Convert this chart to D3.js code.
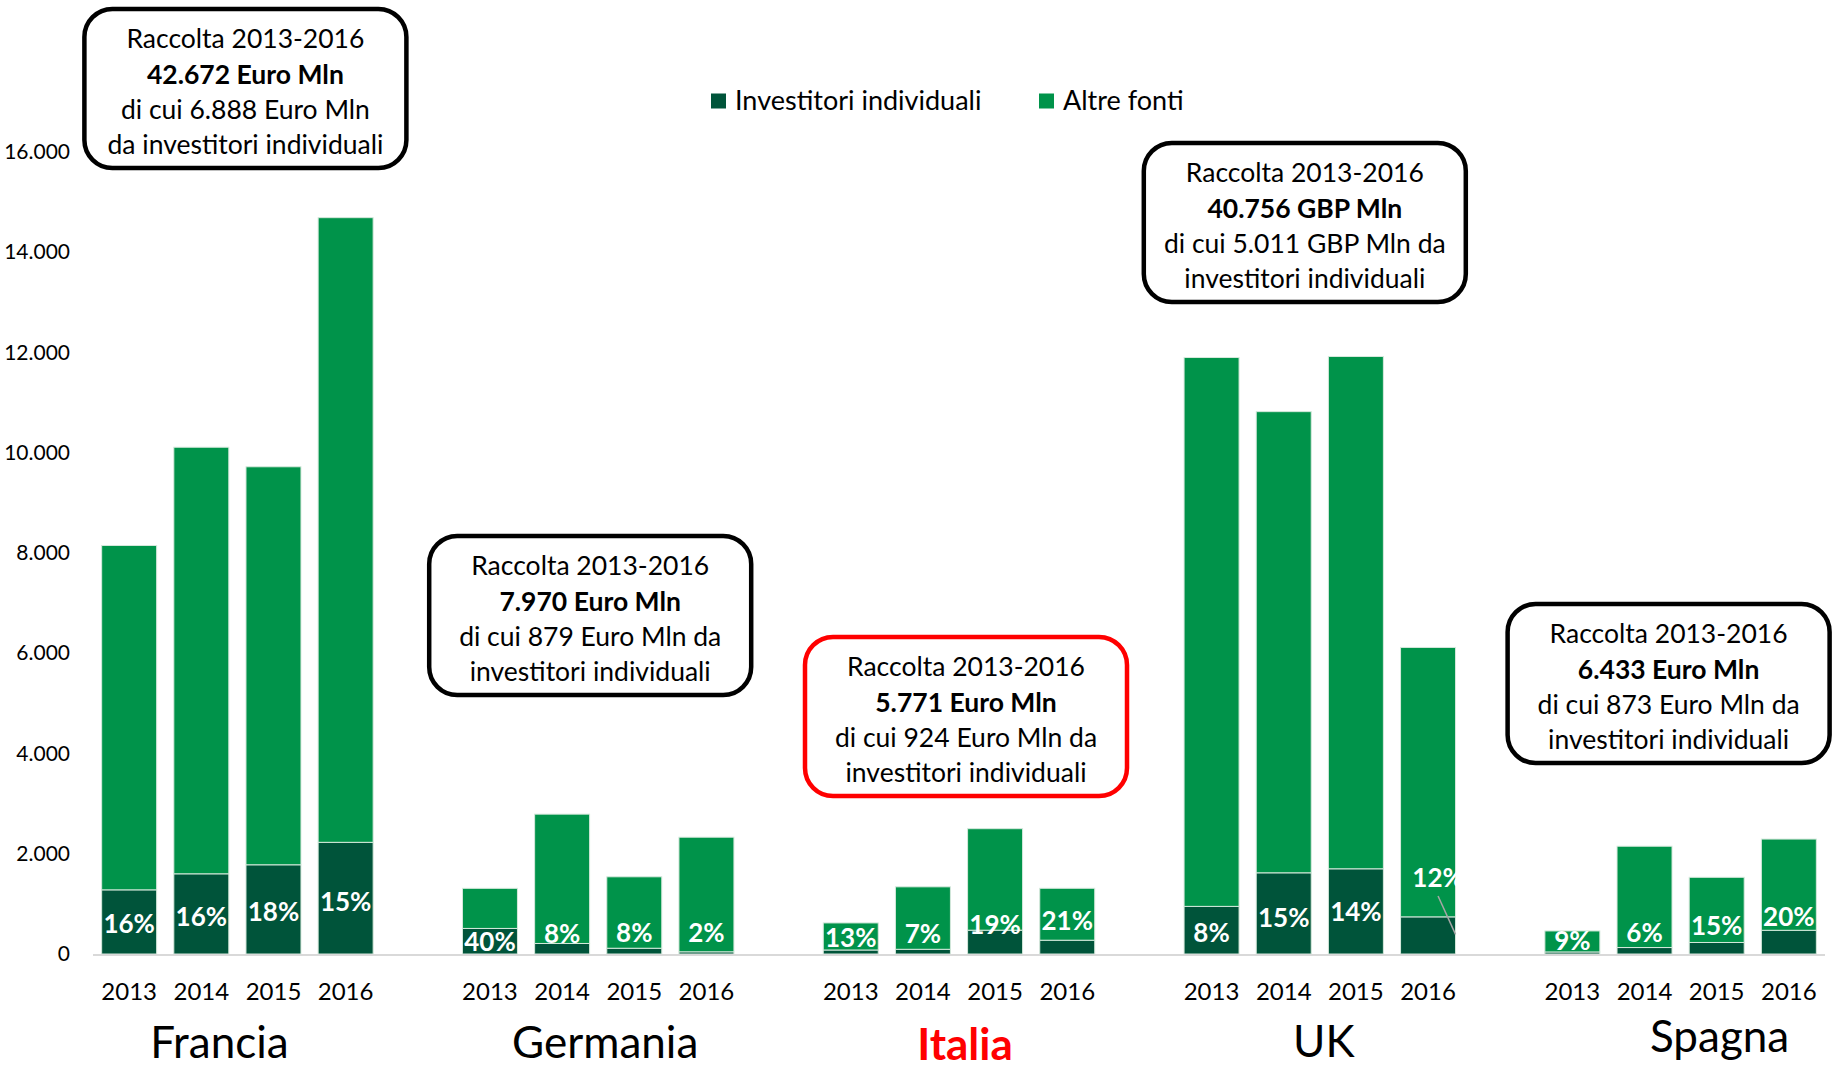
<!DOCTYPE html>
<html>
<head>
	<meta charset="UTF-8" />
	<title>Raccolta 2013-2016</title>
	<script src="https://d3js.org/d3.v7.min.js"></script>
	<style>
		body { margin: 0; background: #fff; }
		svg text { font-family: Lato, "Open Sans", sans-serif; }
	</style>
</head>
<body>
	<svg id="chart" width="1837" height="1070"></svg>

	<script type="text/javascript">
	// dati (Euro Mln, UK in GBP Mln)
	const paesi = ["Francia", "Germania", "Italia", "UK", "Spagna"]
	const anni = ["2013", "2014", "2015", "2016"]
	const investitoriIndividuali = [
		[1280, 1600, 1780, 2228],
		[510, 210, 115, 44],
		[80, 94, 475, 275],
		[950, 1620, 1700, 741],
		[41, 129, 230, 473]
	]
	const altreFonti = [
		[6870, 8510, 7940, 12462],
		[800, 2580, 1425, 2286],
		[540, 1246, 2025, 1036],
		[10950, 9200, 10220, 5375],
		[419, 2021, 1300, 1820]
	]
	const percentuali = [
		["16%", "16%", "18%", "15%"],
		["40%", "8%", "8%", "2%"],
		["13%", "7%", "19%", "21%"],
		["8%", "15%", "14%", "12%"],
		["9%", "6%", "15%", "20%"]
	]
	const yTicks = [0, 2000, 4000, 6000, 8000, 10000, 12000, 14000, 16000]
	const totaleRaccolta = ["42.672 Euro Mln", "7.970 Euro Mln", "5.771 Euro Mln", "40.756 GBP Mln", "6.433 Euro Mln"]
	const noteRiquadro = [
		["di cui 6.888 Euro Mln", "da investitori individuali"],
		["di cui 879 Euro Mln da", "investitori individuali"],
		["di cui 924 Euro Mln da", "investitori individuali"],
		["di cui 5.011 GBP Mln da", "investitori individuali"],
		["di cui 873 Euro Mln da", "investitori individuali"]
	]
	const legenda = ["Investitori individuali", "Altre fonti"]

	// layout (pixel)
	const riquadroDx = [8, -8, 7, -15, -12]
	const riquadroTop = [7, 534, 635, 141, 602]
	const paeseDx = [-18, 7, 6, 4, 39]
	const paeseBase = [1058, 1058, 1060, 1057, 1052]
	const liftEtichetta = [
		[30, 37, 42, 52],
		[12, 20, 21, 21],
		[16, 20, 29, 33],
		[21, 36, 42, 76],
		[13, 21, 28, 37]
	]

	const scuro = "#00543a"
	const chiaro = "#00934a"

	const svg = d3.select("#chart")

	// slot per ogni barra, con uno spazio vuoto tra i paesi
	const slots = []
	paesi.forEach((p, i) => {
		anni.forEach(a => slots.push(p + "|" + a))
		if (i < paesi.length - 1) slots.push("gap" + i)
	})

	const x = d3.scaleBand()
		.domain(slots)
		.range([93, 1825])
		.paddingInner(0.238)
		.paddingOuter(0.12)

	const y = d3.scaleLinear()
		.domain([0, 16000])
		.range([954, 152])

	const rows = []
	paesi.forEach((p, i) => anni.forEach((a, j) => rows.push({
		paese: p, anno: a,
		ind: investitoriIndividuali[i][j],
		alt: altreFonti[i][j],
		pct: percentuali[i][j],
		lift: liftEtichetta[i][j]
	})))

	const stack = d3.stack().keys(["ind", "alt"])(rows)
	const colore = d3.scaleOrdinal().domain(["ind", "alt"]).range([scuro, chiaro])

	// asse y
	const fmt = d3.formatLocale({decimal: ",", thousands: ".", grouping: [3], currency: ["", ""]}).format(",d")
	const yAxis = svg.append("g")
		.attr("transform", "translate(78,0)")
		.call(d3.axisLeft(y).tickValues(yTicks).tickSize(0).tickPadding(8).tickFormat(fmt))
	yAxis.select(".domain").remove()
	yAxis.selectAll("text")
		.style("font-family", "Lato, sans-serif")
		.style("font-size", "21px")
		.attr("fill", "#000")

	// barre
	svg.append("g").selectAll("g")
		.data(stack)
		.join("g")
		.attr("fill", d => colore(d.key))
		.selectAll("rect")
		.data(d => d)
		.join("rect")
		.attr("x", d => x(d.data.paese + "|" + d.data.anno))
		.attr("width", x.bandwidth())
		.attr("y", d => y(d[1]))
		.attr("height", d => y(d[0]) - y(d[1]))
		.attr("stroke", "#d6e9dc")
		.attr("stroke-width", 1)

	// linea di base
	svg.append("line")
		.attr("x1", 93).attr("x2", 1825)
		.attr("y1", y(0) + 1).attr("y2", y(0) + 1)
		.attr("stroke", "#d9d9d9")
		.attr("stroke-width", 2)

	// etichette percentuali
	const cx = d => x(d.paese + "|" + d.anno) + x.bandwidth() / 2
	svg.append("g").selectAll("text")
		.data(rows)
		.join("text")
		.attr("x", d => cx(d) + (d.paese == "UK" && d.anno == "2016" ? 10 : 0))
		.attr("y", d => y(0) - d.lift)
		.attr("dy", "0.35em")
		.attr("text-anchor", "middle")
		.attr("fill", "#fff")
		.style("font-size", "26px")
		.style("font-weight", "bold")
		.text(d => d.pct)

	// linea guida per UK 2016
	const uk16 = rows.find(d => d.paese == "UK" && d.anno == "2016")
	svg.append("line")
		.attr("x1", cx(uk16) + 10)
		.attr("y1", y(0) - uk16.lift + 18)
		.attr("x2", x("UK|2016") + x.bandwidth())
		.attr("y2", y(uk16.ind / 2) - 1)
		.attr("stroke", "#a6a6a6")
		.attr("stroke-width", 1.5)

	// anni
	svg.append("g").selectAll("text")
		.data(rows)
		.join("text")
		.attr("x", cx)
		.attr("y", 1000)
		.attr("text-anchor", "middle")
		.style("font-size", "24px")
		.text(d => d.anno)

	// nomi paesi
	const centroGruppo = p => (x(p + "|2013") + x(p + "|2016") + x.bandwidth()) / 2
	svg.append("g").selectAll("text")
		.data(paesi)
		.join("text")
		.attr("x", (d, i) => centroGruppo(d) + paeseDx[i])
		.attr("y", (d, i) => paeseBase[i])
		.attr("text-anchor", "middle")
		.attr("fill", d => d == "Italia" ? "#ff0000" : "#000")
		.style("font-size", "44px")
		.style("font-weight", d => d == "Italia" ? "bold" : "normal")
		.text(d => d)

	// riquadri
	const bw = 326, bh = 163
	const box = svg.append("g").selectAll("g")
		.data(paesi)
		.join("g")
		.attr("transform", (d, i) => "translate(" + (centroGruppo(d) + riquadroDx[i] - bw / 2) + "," + riquadroTop[i] + ")")
	box.append("rect")
		.attr("x", 2).attr("y", 2)
		.attr("width", bw - 4).attr("height", bh - 4)
		.attr("rx", 28)
		.attr("fill", "#fff")
		.attr("stroke", d => d == "Italia" ? "#ff0000" : "#000")
		.attr("stroke-width", 4.5)
	box.each(function(d, i) {
		const lines = ["Raccolta 2013-2016", totaleRaccolta[i], noteRiquadro[i][0], noteRiquadro[i][1]]
		d3.select(this).selectAll("text")
			.data(lines)
			.join("text")
			.attr("x", bw / 2)
			.attr("y", (l, k) => 32 + k * 35.3)
			.attr("dy", "0.35em")
			.attr("text-anchor", "middle")
			.style("font-size", "26.5px")
			.style("font-weight", (l, k) => k == 1 ? "bold" : "normal")
			.text(l => l)
	})

	// legenda
	const legX = [711, 1039]
	const leg = svg.append("g").selectAll("g")
		.data(legenda)
		.join("g")
		.attr("transform", (d, i) => "translate(" + legX[i] + ",101)")
	leg.append("rect")
		.attr("x", 0).attr("y", -7.5)
		.attr("width", 15).attr("height", 15)
		.attr("fill", (d, i) => i == 0 ? scuro : chiaro)
	leg.append("text")
		.attr("x", 24)
		.attr("dy", "0.35em")
		.style("font-size", "27px")
		.text(d => d)
	</script>
</body>
</html>
